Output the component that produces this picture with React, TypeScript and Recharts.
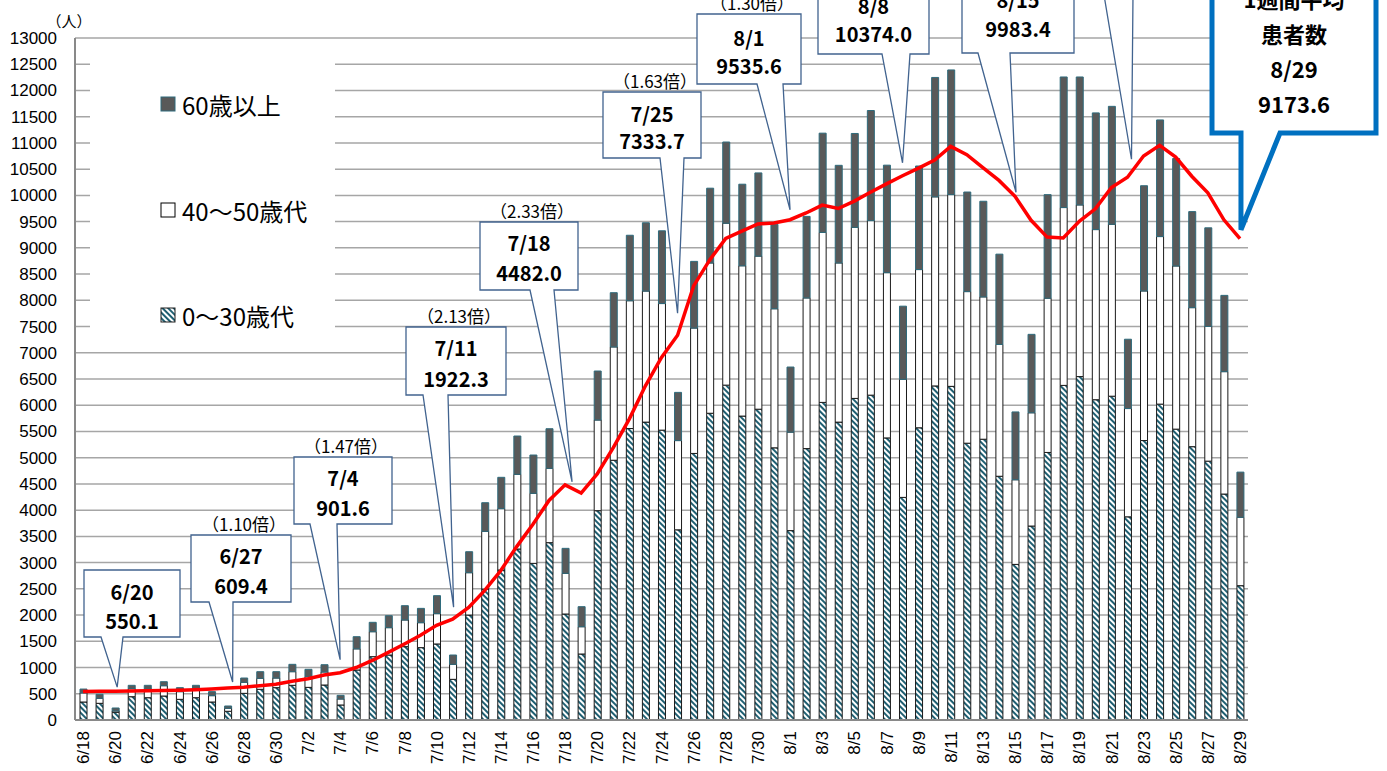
import { ComposedChart, Bar, Line, XAxis, YAxis, CartesianGrid } from "recharts";

const dates = [
  "6/18", "6/19", "6/20", "6/21", "6/22", "6/23", "6/24", "6/25", "6/26", "6/27", "6/28", "6/29", "6/30",
  "7/1", "7/2", "7/3", "7/4", "7/5", "7/6", "7/7", "7/8", "7/9", "7/10", "7/11", "7/12", "7/13", "7/14",
  "7/15", "7/16", "7/17", "7/18", "7/19", "7/20", "7/21", "7/22", "7/23", "7/24", "7/25", "7/26", "7/27",
  "7/28", "7/29", "7/30", "7/31",
  "8/1", "8/2", "8/3", "8/4", "8/5", "8/6", "8/7", "8/8", "8/9", "8/10", "8/11", "8/12", "8/13", "8/14",
  "8/15", "8/16", "8/17", "8/18", "8/19", "8/20", "8/21", "8/22", "8/23", "8/24", "8/25", "8/26", "8/27",
  "8/28", "8/29",
];

// 0〜30歳代
const age0to30 = [
  343, 318, 147, 444, 425, 457, 394, 425, 343, 166,
  508, 585, 616, 661, 622, 667, 286, 953, 1207, 1239,
  1398, 1379, 1449, 775, 2001, 2497, 2859, 3259, 2986, 3380,
  2020, 1258, 3990, 4951, 5556, 5678, 5525, 3625, 5081, 5847,
  6383, 5793, 5924, 5188, 3610, 5173, 6054, 5678, 6130, 6192,
  5377, 4243, 5570, 6368, 6360, 5276, 5352, 4646, 2966, 3697,
  5100, 6378, 6546, 6105, 6172, 3873, 5327, 6021, 5544, 5210,
  4934, 4307, 2560,
];

// 40〜50歳代
const age40to50 = [
  172, 95, 25, 153, 164, 197, 146, 160, 121, 57,
  210, 209, 184, 260, 204, 248, 114, 403, 476, 521,
  508, 476, 578, 286, 807, 1099, 1169, 1424, 1335, 1417,
  776, 520, 1728, 2160, 2436, 2498, 2413, 1701, 2390, 2865,
  3087, 2865, 2918, 2651, 1877, 2872, 3240, 3034, 3260, 3326,
  3150, 2251, 3016, 3604, 3654, 2890, 2713, 2512, 1613, 2159,
  2940, 3390, 3272, 3243, 3277, 2064, 2851, 3194, 3110, 2650,
  2567, 2333, 1304,
];

// 60歳以上
const age60plus = [
  75, 77, 57, 64, 72, 76, 76, 76, 76, 44,
  82, 127, 121, 140, 140, 139, 70, 232, 179, 228,
  273, 273, 343, 178, 400, 546, 598, 730, 730, 755,
  476, 382, 934, 1034, 1248, 1302, 1387, 919, 1271, 1425,
  1547, 1555, 1586, 1608, 1241, 1555, 1892, 1861, 1790, 2100,
  2049, 1394, 1974, 2276, 2377, 1898, 1823, 1722, 1293, 1495,
  1974, 2489, 2439, 2224, 2248, 1321, 2006, 2223, 2049, 1831,
  1881, 1454, 861,
];

// 1週間平均 (red line)
const weeklyAvg = [
  545, 548, 550, 553, 558, 563, 568, 578, 592, 609,
  625, 655, 680, 740, 785, 858, 902, 1000, 1135, 1290,
  1450, 1615, 1805, 1922, 2145, 2470, 2850, 3310, 3730, 4185,
  4482, 4325, 4690, 5190, 5740, 6370, 6910, 7334, 8275, 8770,
  9180, 9320, 9455, 9475, 9536, 9665, 9815, 9750, 9890, 10060,
  10220, 10374, 10520, 10675, 10935, 10775, 10530, 10285, 9983, 9525,
  9205, 9190, 9505, 9745, 10150, 10346, 10750, 10955, 10730, 10365,
  10050, 9535, 9174,
];

const yTicks = [
  0, 500, 1000, 1500, 2000, 2500, 3000, 3500, 4000, 4500, 5000, 5500, 6000, 6500,
  7000, 7500, 8000, 8500, 9000, 9500, 10000, 10500, 11000, 11500, 12000, 12500, 13000,
];

// weekly callouts: date index, texts, ratio vs previous week
const callouts = [
  { idx: 2, title: "6/20", value: "550.1", ratio: "", box: [84, 570, 180, 637], base: [101, 123], off: [2, -4], ty: [591, 620] },
  { idx: 9, title: "6/27", value: "609.4", ratio: "（1.10倍）", box: [191, 535, 291, 602], base: [209, 233], off: [5, -6], ty: [555, 585] },
  { idx: 16, title: "7/4", value: "901.6", ratio: "（1.47倍）", box: [294, 457, 392, 524], base: [310, 337], off: [0, -13], ty: [477, 507] },
  { idx: 23, title: "7/11", value: "1922.3", ratio: "（2.13倍）", box: [406, 327, 506, 395], base: [423, 448], off: [1, -12], ty: [347, 378] },
  { idx: 30, title: "7/18", value: "4482.0", ratio: "（2.33倍）", box: [480, 222, 578, 290], base: [530, 554], off: [7, -3], ty: [242, 272] },
  { idx: 37, title: "7/25", value: "7333.7", ratio: "（1.63倍）", box: [603, 92, 701, 158], base: [660, 684], off: [0, -22], ty: [113, 140] },
  { idx: 44, title: "8/1", value: "9535.6", ratio: "（1.30倍）", box: [697, 14, 801, 84], base: [757, 783], off: [0, -10], ty: [37, 65] },
  { idx: 51, title: "8/8", value: "10374.0", ratio: "", box: [818, -30, 929, 54], base: [882, 910], off: [0, -13], ty: [5, 33] },
  { idx: 58, title: "8/15", value: "9983.4", ratio: "", box: [962, -32, 1074, 53], base: [978, 1010], off: [1, -4], ty: [-1, 28] },
  { idx: 65, title: "", value: "", ratio: "", box: [1060, -80, 1160, -5], base: [1104, 1133], off: [4, -18], ty: [-50, -22] },
];

const latestLines = ["1週間平均", "患者数", "8/29", "9173.6"];

const W = 1387;
const H = 771;
const MARGIN = { top: 38, right: 139, bottom: 0, left: 0 };
const Y_AXIS_W = 75;
const X_AXIS_H = 51;
const Y_MAX = 13000;
const plotL = MARGIN.left + Y_AXIS_W;
const plotR = W - MARGIN.right;
const plotT = MARGIN.top;
const plotB = H - MARGIN.bottom - X_AXIS_H;
const px = (i: number) => plotL + ((i + 0.5) * (plotR - plotL)) / dates.length;
const py = (v: number) => plotB - (v / Y_MAX) * (plotB - plotT);

const rows = dates.map((d, i) => ({
  date: d,
  young: age0to30[i],
  mid: age40to50[i],
  old: age60plus[i],
  avg: weeklyAvg[i],
}));

const TICK_FONT = "'Liberation Sans', Arial, sans-serif";
const JP_FONT = "'Noto Sans CJK JP', 'Noto Sans', sans-serif";

function XTick({ x, y, payload }: any) {
  const ty = y + 3;
  return (
    <text
      x={x}
      y={ty}
      transform={`rotate(-90 ${x} ${ty})`}
      textAnchor="end"
      dy="0.36em"
      fontSize={17}
      fontFamily={TICK_FONT}
      fill="#000"
    >
      {payload.value}
    </text>
  );
}

function calloutPath(box: number[], base: number[], tip: number[]) {
  const [l, t, r, b] = box;
  return `M${l},${t} L${r},${t} L${r},${b} L${base[1]},${b} L${tip[0]},${tip[1]} L${base[0]},${b} L${l},${b} Z`;
}

function Overlay() {
  const lastIdx = dates.length - 1;
  const lastTip = [px(lastIdx) + 1, py(weeklyAvg[lastIdx]) - 9];
  return (
    <svg width={W} height={H} style={{ position: "absolute", left: 0, top: 0, pointerEvents: "none" }}>
      {/* legend */}
      <rect x={90} y={50} width={245} height={290} fill="#fff" />
      <rect x={161} y={97} width={14} height={14} fill="#595959" stroke="#2f6b7c" strokeWidth={1} />
      <text x={182} y={104} dominantBaseline="central" fontSize={24} fontFamily={JP_FONT} fill="#000">60歳以上</text>
      <rect x={161} y={203} width={14} height={14} fill="#fff" stroke="#000" strokeWidth={1} />
      <text x={182} y={210} dominantBaseline="central" fontSize={24} fontFamily={JP_FONT} fill="#000">40〜50歳代</text>
      <rect x={161} y={308} width={14} height={14} fill="url(#hatch)" stroke="#1f1f1f" strokeWidth={1} />
      <text x={182} y={315} dominantBaseline="central" fontSize={24} fontFamily={JP_FONT} fill="#000">0〜30歳代</text>

      <text x={69} y={20} textAnchor="middle" dominantBaseline="central" fontSize={15} fontFamily={JP_FONT} fill="#000">（人）</text>

      {callouts.map((c) => {
        const tip = [px(c.idx) + c.off[0], py(weeklyAvg[c.idx]) + c.off[1]];
        const cx = (c.box[0] + c.box[2]) / 2;
        return (
          <g key={c.idx}>
            <path d={calloutPath(c.box, c.base, tip)} fill="#fff" stroke="#41638f" strokeWidth={1.3} />
            {c.title && (
              <text x={cx} y={c.ty[0]} textAnchor="middle" dominantBaseline="central" fontSize={20} fontWeight={700} fontFamily={JP_FONT} fill="#000">{c.title}</text>
            )}
            {c.value && (
              <text x={cx} y={c.ty[1]} textAnchor="middle" dominantBaseline="central" fontSize={20} fontWeight={700} fontFamily={JP_FONT} fill="#000">{c.value}</text>
            )}
            {c.ratio && (
              <text x={cx + 3} y={c.box[1] - 12} textAnchor="middle" dominantBaseline="central" fontSize={17} fontFamily={JP_FONT} fill="#000">{c.ratio}</text>
            )}
          </g>
        );
      })}

      {/* latest weekly average */}
      <path d={calloutPath([1212, -40, 1376, 133], [1241, 1280], lastTip)} fill="#fff" stroke="#0070c0" strokeWidth={5} strokeLinejoin="miter" />
      {latestLines.map((s, k) => (
        <text key={k} x={1294} y={-2 + k * 35} textAnchor="middle" dominantBaseline="central" fontSize={22} fontWeight={700} fontFamily={JP_FONT} fill="#000">
          {s}
        </text>
      ))}
    </svg>
  );
}

export default function App() {
  return (
    <div style={{ position: "absolute", left: 0, top: 0, width: W, height: H, background: "#fff" }}>
      <svg width={0} height={0} style={{ position: "absolute" }}>
        <defs>
          <pattern id="hatch" width="4" height="4" patternUnits="userSpaceOnUse" patternTransform="rotate(-45)">
            <rect width="4" height="4" fill="#ffffff" />
            <rect width="2" height="4" fill="#1f5f72" />
          </pattern>
        </defs>
      </svg>
      <ComposedChart width={W} height={H} data={rows} margin={MARGIN} barGap={0}>
        <CartesianGrid horizontal vertical={false} stroke="#a6a6a6" strokeWidth={1.5} />
        <XAxis
          dataKey="date"
          height={X_AXIS_H}
          interval={1}
          tick={<XTick />}
          tickLine={false}
          axisLine={{ stroke: "#898989", strokeWidth: 2 }}
        />
        <YAxis
          width={Y_AXIS_W}
          domain={[0, Y_MAX]}
          ticks={yTicks}
          interval={0}
          tickLine={false}
          tickSize={6}
          tickMargin={12}
          axisLine={{ stroke: "#898989", strokeWidth: 2 }}
          tick={{ fontSize: 17, fontFamily: TICK_FONT, fill: "#000" }}
        />
        <Bar dataKey="young" stackId="a" barSize={7} fill="url(#hatch)" stroke="#1a1a1a" strokeWidth={1} isAnimationActive={false} />
        <Bar dataKey="mid" stackId="a" barSize={7} fill="#ffffff" stroke="#1a1a1a" strokeWidth={1} isAnimationActive={false} />
        <Bar dataKey="old" stackId="a" barSize={7} fill="#595959" stroke="#2f6b7c" strokeWidth={1} isAnimationActive={false} />
        <Line dataKey="avg" type="linear" stroke="#ff0000" strokeWidth={3.5} dot={false} activeDot={false} isAnimationActive={false} />
      </ComposedChart>
      <Overlay />
    </div>
  );
}
